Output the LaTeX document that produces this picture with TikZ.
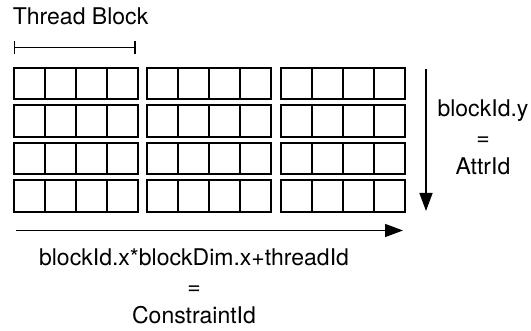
\documentclass[tikz,border=0pt]{standalone}
\usepackage{fontspec}
\setmainfont{TeX Gyre Heros}
\usetikzlibrary{positioning,arrows.meta}

\begin{document}
\begin{tikzpicture}[x=0.5pt, y=0.5pt,
      lbl/.style={inner sep=0pt, font=\fontsize{11.5}{14.5}\selectfont, align=center},
      cell/.style={draw, line width=1pt, minimum width=15.5pt, minimum height=15.75pt,
                   inner sep=0pt, outer sep=0pt},
      flecha/.style={-{Triangle[length=9pt, width=6.5pt]}, line width=0.75pt}]
    \useasboundingbox (0,0) rectangle (531,331);
    \node[lbl, anchor=base west] (tb) at (12.5,306.5) {Thread Block};
    \coordinate (tb-l) at (13.5,283.5);
    \coordinate (tb-r) at (135.5,283.5);
    \draw[{Bar[width=6.5pt]}-{Bar[width=6.5pt]}, line width=0.75pt] (tb-l) -- (tb-r);
    % 3 bloques x 4 filas, 4 hilos por bloque
    \foreach \b in {0,1,2}
      \foreach \r in {0,...,3}
        \foreach \k in {0,...,3}
          \node[cell] (c\b\r\k) at ({29+133.5*\b+31*\k}, {247.25-37.4*\r}) {};
    \coordinate (ya) at (426,262);
    \coordinate (yb) at (426,120);
    \draw[flecha] (ya) -- (yb);
    \coordinate (xa) at (16,100.5);
    \coordinate (xb) at (403,100.5);
    \draw[flecha] (xa) -- (xb);
    \node[lbl, anchor=north] (ylbl) at (483,232) {blockId.y\\=\\AttrId};
    \node[lbl, anchor=north] (xlbl) at (194,82.7) {blockId.x*blockDim.x+threadId\\=\\ConstraintId};
\end{tikzpicture}
\end{document}
